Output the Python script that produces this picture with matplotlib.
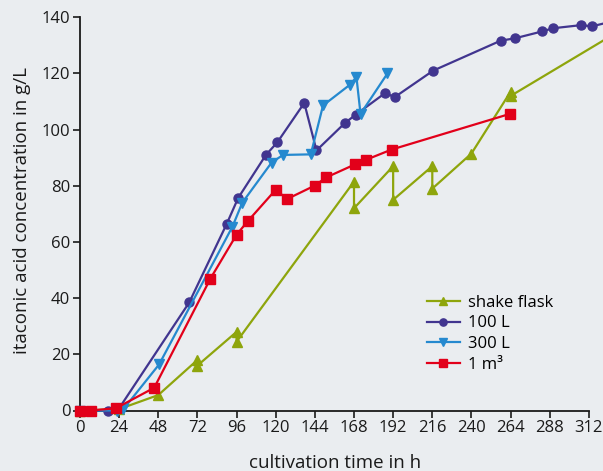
import matplotlib
matplotlib.use("Agg")
import matplotlib.pyplot as plt

# ── Data ─────────────────────────────────────────────────────────────────────
flask_t = [0, 24, 48, 72, 72, 96, 96, 168, 168, 192, 192, 216, 216, 240, 264, 264, 336]
flask_c = [0, 0.5, 5.5, 18, 16, 28, 24.5, 81.5, 72, 87, 75, 87, 79, 91.5, 113.5, 112, 137]

l100_t = [0, 17, 24, 67, 90, 97, 114, 121, 137.5, 145, 162.5, 169, 187, 193, 216.5,
          258, 266.5, 283.5, 290, 307, 314, 326]
l100_c = [0, 0, 0.8, 38.5, 66.5, 75.7, 91, 95.5, 109.5, 92.6, 102.4, 105.3, 113, 111.6, 121,
          131.7, 132.5, 135, 136.1, 137.2, 136.8, 138.5]

l300_t = [0, 22.5, 26.5, 48.5, 93.5, 99.5, 117.5, 124.5, 141.5, 149, 165.5, 169.5, 172, 188.5]
l300_c = [0, 0, 0.4, 16.4, 65.5, 74, 88.3, 91, 91.2, 108.6, 116, 118.7, 105.6, 120]

m3_t = [0, 6.5, 22, 45.5, 80, 96, 103, 120, 127, 144, 151, 168.5, 175.5, 191, 263.5]
m3_c = [0, 0, 0.8, 8.1, 47, 62.6, 67.5, 78.6, 75.3, 80.1, 83, 87.6, 89.3, 92.9, 105.6]

xticks = list(range(0, 313, 24))
yticks = list(range(0, 141, 20))

# ── Palette ──────────────────────────────────────────────────────────────────
BG     = "#eaedf0"
GREEN  = "#8ea50c"
PURPLE = "#41358f"
BLUE   = "#2589cf"
RED    = "#e2001a"
TEXT   = "#1a1a1a"

plt.rcParams["font.family"] = ["Open Sans", "DejaVu Sans"]

fig = plt.figure(figsize=(6.03, 4.71), dpi=100, facecolor=BG)
ax = fig.add_axes([80 / 603, 1 - 410.5 / 471, 1 - 80 / 603, 410.5 / 471])
ax.set_facecolor(BG)

common = dict(linewidth=1.6, markersize=6.5, clip_on=False, zorder=3)
ax.plot(flask_t, flask_c, color=GREEN, marker="^", label="shake flask", **common)
ax.plot(l100_t, l100_c, color=PURPLE, marker="o", label="100 L", **common)
ax.plot(l300_t, l300_c, color=BLUE, marker="v", label="300 L", **common)
ax.plot(m3_t, m3_c, color=RED, marker="s", label="1 m\u00b3", **common)

ax.set_xlim(0, (603 - 80) / 1.631)
ax.set_ylim(0, 140 + 17.3 / 2.807)

for s in ["top", "right"]:
    ax.spines[s].set_visible(False)
ax.spines["left"].set_bounds(0, 140)
ax.spines["bottom"].set_bounds(0, 312)
for s in ["left", "bottom"]:
    ax.spines[s].set_color(TEXT)
    ax.spines[s].set_linewidth(1.3)

ax.set_xticks(xticks)
ax.set_yticks(yticks)
ax.tick_params(direction="out", length=5, width=1.2, colors=TEXT,
               labelsize=12, pad=2)

ax.set_xlabel("cultivation time in h", fontsize=13.5, color=TEXT, va="center")
ax.set_ylabel("itaconic acid concentration in g/L", fontsize=13.5, color=TEXT,
              va="center")
ax.xaxis.set_label_coords(0.487, -0.128)
ax.yaxis.set_label_coords(-0.111, 0.487)

ax.legend(loc="upper left", bbox_to_anchor=(420 / 603, 1 - 288 / 471),
          bbox_transform=fig.transFigure, frameon=False, fontsize=12,
          handlelength=2.0, handletextpad=0.45, labelspacing=0.28,
          borderaxespad=0, markerscale=0.8)

fig.savefig("out.png", dpi=100, facecolor=BG)
